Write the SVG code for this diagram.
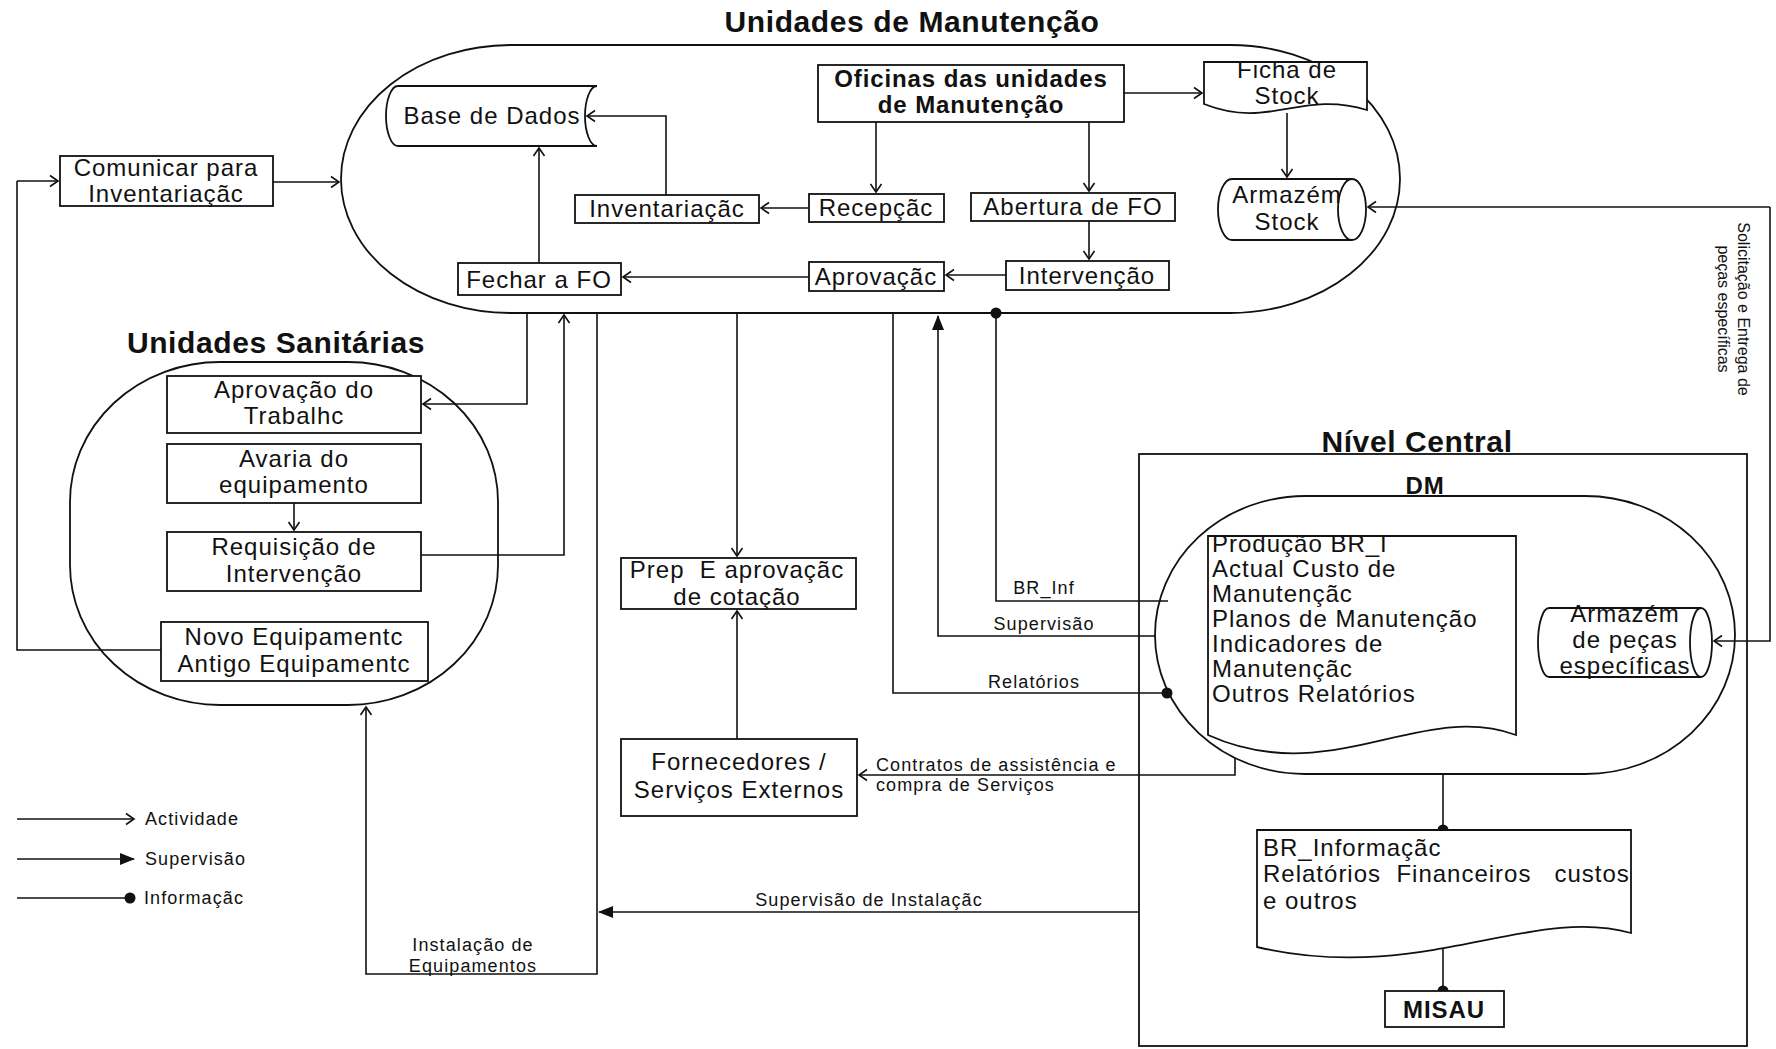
<svg xmlns="http://www.w3.org/2000/svg" width="1776" height="1049" viewBox="0 0 1776 1049">
<style>
.s{fill:none;stroke:#111;stroke-width:1.8}
.b{fill:#fff;stroke:#111;stroke-width:1.8}
text{font-family:"Liberation Sans",Arial,sans-serif;fill:#111}
.t{font-size:24px;letter-spacing:1px;text-anchor:middle}
.tl{font-size:24px;letter-spacing:1px}
.h{font-size:30px;font-weight:bold;letter-spacing:0.6px;text-anchor:middle}
.bb{font-size:24px;font-weight:bold;letter-spacing:0.9px;text-anchor:middle}
.l{font-size:18px;letter-spacing:1.1px;text-anchor:middle}
.ll{font-size:18px;letter-spacing:1.1px}
.r{font-size:16px;text-anchor:middle}
.c{fill:none;stroke:#111;stroke-width:1.6}
.act{marker-end:url(#open)}
.sup{marker-end:url(#tri)}
</style>
<defs>
<marker id="open" markerWidth="14" markerHeight="14" refX="11" refY="7" orient="auto" markerUnits="userSpaceOnUse"><path d="M3,1.5 L11,7 L3,12.5" fill="none" stroke="#111" stroke-width="1.6"/></marker>
<marker id="tri" markerWidth="16" markerHeight="16" refX="14" refY="8" orient="auto" markerUnits="userSpaceOnUse"><path d="M0,2 L15,8 L0,14 Z" fill="#111"/></marker>
<marker id="dot" markerWidth="14" markerHeight="14" refX="7" refY="7" orient="auto" markerUnits="userSpaceOnUse"><circle cx="7" cy="7" r="5.5" fill="#111"/></marker>
</defs>

<!-- containers -->
<g id="unidades-manutencao">
<rect class="s" x="341" y="45" width="1059" height="268" rx="170" ry="134"/>
<text class="h" x="912" y="32">Unidades de Manutenção</text>
</g>
<g id="unidades-sanitarias">
<rect class="s" x="70" y="362" width="428" height="343" rx="150" ry="140"/>
<text class="h" x="276" y="353">Unidades Sanitárias</text>
</g>
<g id="nivel-central">
<rect class="s" x="1139" y="454" width="608" height="592"/>
<text class="h" x="1417" y="452">Nível Central</text>
</g>
<g id="dm">
<rect class="s" x="1155" y="496" width="580" height="278" rx="150" ry="139"/>
<text class="bb" x="1425" y="494">DM</text>
</g>

<!-- connectors -->
<g id="connectors">
<path class="c act" d="M17,181 H58"/>
<path class="c" d="M17,181 V650 H161"/>
<path class="c act" d="M273,182 H339"/>
<path class="c act" d="M1124,93 H1202"/>
<path class="c act" d="M1287,113 V177"/>
<path class="c act" d="M876,122 V192"/>
<path class="c act" d="M1089,122 V191"/>
<path class="c act" d="M809,208 H761"/>
<path class="c act" d="M666,195 V116 H587"/>
<path class="c act" d="M1089,221 V259"/>
<path class="c act" d="M1006,275 H946"/>
<path class="c act" d="M809,277 H623"/>
<path class="c act" d="M539,263 V148"/>
<path class="c act" d="M527,313 V404 H423"/>
<path class="c act" d="M421,555 H564 V315"/>
<path class="c act" d="M294,503 V530"/>
<path class="c act" d="M597,313 V974 H366 V707"/>
<path class="c sup" d="M1139,912 H599"/>
<path class="c act" d="M737,313 V556"/>
<path class="c act" d="M737,739 V611"/>
<path class="c act" d="M1235,758 V775 H859"/>
<path class="c" d="M893,313 V693 H1167" marker-end="url(#dot)"/>
<path class="c sup" d="M1155,636 H938 V316"/>
<path class="c" d="M996,313 V601 H1168" marker-start="url(#dot)"/>
<path class="c act" d="M1770,207 H1368"/>
<path class="c act" d="M1770,207 V641 H1714"/>
<path class="c" d="M1443,774 V830" marker-end="url(#dot)"/>
<path class="c" d="M1443,935 V991" marker-end="url(#dot)"/>
<text class="l" x="1044" y="594">BR_Inf</text>
<text class="l" x="1044" y="630">Supervisão</text>
<text class="l" x="1034" y="688">Relatórios</text>
<text class="ll" x="876" y="771">Contratos de assistência e</text>
<text class="ll" x="876" y="791">compra de Serviços</text>
<text class="l" x="869" y="906">Supervisão de Instalaçãc</text>
<text class="l" x="473" y="951">Instalação de</text>
<text class="l" x="473" y="972">Equipamentos</text>
<g transform="translate(1730,309) rotate(90)">
<text class="r" x="0" y="-8">Solicitação e Entrega de</text>
<text class="r" x="0" y="12">peças específicas</text>
</g>
</g>

<!-- nodes -->
<g id="base-de-dados">
<path class="b" d="M398,86 H597 A12,30 0 0 0 597,146 H398 A12,30 0 0 1 398,86 Z"/>
<text class="t" x="492" y="124">Base de Dados</text>
</g>
<g id="oficinas">
<rect class="b" x="818" y="65" width="306" height="57"/>
<text class="bb" x="971" y="87">Oficinas das unidades</text>
<text class="bb" x="971" y="113">de Manutenção</text>
</g>
<g id="ficha-de-stock">
<path class="b" d="M1204,62 H1367 V110 C1300,90 1270,130 1204,104 Z"/>
<text class="t" x="1287" y="78">Ficha de</text>
<text class="t" x="1287" y="104">Stock</text>
</g>
<g id="armazem-stock">
<path class="b" d="M1232,179 H1352 A14,30.5 0 0 1 1352,240 H1232 A14,30.5 0 0 1 1232,179 Z"/>
<path class="s" d="M1352,179 A14,30.5 0 0 0 1352,240"/>
<text class="t" x="1287" y="203">Armazém</text>
<text class="t" x="1287" y="230">Stock</text>
</g>
<g id="inventariacao">
<rect class="b" x="575" y="195" width="184" height="28"/>
<text class="t" x="667" y="217">Inventariaçãc</text>
</g>
<g id="recepcao">
<rect class="b" x="809" y="194" width="135" height="28"/>
<text class="t" x="876" y="216">Recepçãc</text>
</g>
<g id="abertura-fo">
<rect class="b" x="971" y="193" width="204" height="28"/>
<text class="t" x="1073" y="215">Abertura de FO</text>
</g>
<g id="fechar-fo">
<rect class="b" x="458" y="263" width="163" height="32"/>
<text class="t" x="539" y="288">Fechar a FO</text>
</g>
<g id="aprovacao">
<rect class="b" x="809" y="262" width="135" height="29"/>
<text class="t" x="876" y="285">Aprovaçãc</text>
</g>
<g id="intervencao">
<rect class="b" x="1006" y="261" width="163" height="29"/>
<text class="t" x="1087" y="284">Intervenção</text>
</g>
<g id="comunicar">
<rect class="b" x="60" y="156" width="213" height="50"/>
<text class="t" x="166" y="176">Comunicar para</text>
<text class="t" x="166" y="202">Inventariaçãc</text>
</g>
<g id="aprovacao-trabalho">
<rect class="b" x="167" y="376" width="254" height="57"/>
<text class="t" x="294" y="398">Aprovação do</text>
<text class="t" x="294" y="424">Trabalhc</text>
</g>
<g id="avaria">
<rect class="b" x="167" y="444" width="254" height="59"/>
<text class="t" x="294" y="467">Avaria do</text>
<text class="t" x="294" y="493">equipamento</text>
</g>
<g id="requisicao">
<rect class="b" x="167" y="532" width="254" height="59"/>
<text class="t" x="294" y="555">Requisição de</text>
<text class="t" x="294" y="582">Intervenção</text>
</g>
<g id="novo-equipamento">
<rect class="b" x="161" y="622" width="267" height="59"/>
<text class="t" x="294" y="645">Novo Equipamentc</text>
<text class="t" x="294" y="672">Antigo Equipamentc</text>
</g>
<g id="prep-cotacao">
<rect class="b" x="621" y="558" width="235" height="51"/>
<text class="t" x="737" y="578" xml:space="preserve">Prep  E aprovaçãc</text>
<text class="t" x="737" y="605">de cotação</text>
</g>
<g id="fornecedores">
<rect class="b" x="621" y="739" width="236" height="77"/>
<text class="t" x="739" y="770">Fornecedores /</text>
<text class="t" x="739" y="798">Serviços Externos</text>
</g>
<g id="producao">
<path class="b" d="M1208,536 H1516 V735 C1420,700 1330,790 1208,735 Z"/>
<text class="tl" x="1212" y="552">Produção BR_I</text>
<text class="tl" x="1212" y="577">Actual Custo de</text>
<text class="tl" x="1212" y="602">Manutençãc</text>
<text class="tl" x="1212" y="627">Planos de Manutenção</text>
<text class="tl" x="1212" y="652">Indicadores de</text>
<text class="tl" x="1212" y="677">Manutençãc</text>
<text class="tl" x="1212" y="702">Outros Relatórios</text>
</g>
<g id="armazem-pecas">
<path class="b" d="M1549,608 H1701 A11,34.5 0 0 1 1701,677 H1549 A11,34.5 0 0 1 1549,608 Z"/>
<path class="s" d="M1701,608 A11,34.5 0 0 0 1701,677"/>
<text class="t" x="1625" y="622">Armazém</text>
<text class="t" x="1625" y="648">de peças</text>
<text class="t" x="1625" y="674">específicas</text>
</g>
<g id="br-informacao">
<path class="b" d="M1257,830 H1631 V933 C1530,905 1420,985 1257,947 Z"/>
<text class="tl" x="1263" y="856">BR_Informaçãc</text>
<text class="tl" x="1263" y="882" xml:space="preserve">Relatórios  Financeiros   custos</text>
<text class="tl" x="1263" y="909">e outros</text>
</g>
<g id="misau">
<rect class="b" x="1385" y="991" width="119" height="36"/>
<text class="bb" x="1444" y="1018">MISAU</text>
</g>

<g id="legend">
<path class="c act" d="M17,819 H134"/>
<path class="c sup" d="M17,859 H134"/>
<path class="c" d="M17,898 H130" marker-end="url(#dot)"/>
<text class="ll" x="145" y="825">Actividade</text>
<text class="ll" x="145" y="865">Supervisão</text>
<text class="ll" x="144" y="904">Informaçãc</text>
</g>
</svg>
